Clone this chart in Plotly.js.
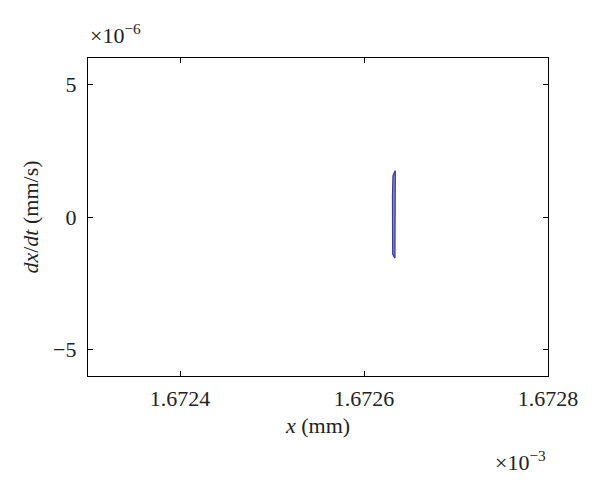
<!DOCTYPE html>
<html>
<head>
<meta charset="utf-8">
<script src="https://cdn.plot.ly/plotly-3.0.1.min.js"></script>
<style>html,body{margin:0;padding:0;background:#fff;}#chart{width:600px;height:490px;}</style>
</head>
<body>
<div id="chart"></div>
<script>
// Phase-portrait loop (x in units of 1e-3 mm, dx/dt in units of 1e-6 mm/s)
const loopX = [1.6726340, 1.6726338, 1.6726336, 1.6726336, 1.6726337, 1.6726336, 1.6726312, 1.6726310, 1.6726309, 1.6726310, 1.6726315, 1.6726340];
const loopY = [1.75, 1.2, 0.5, -0.3, -1.0, -1.55, -1.40, -0.8, 0.0, 0.8, 1.55, 1.75];
const xTicks = [1.6724, 1.6726, 1.6728];
const xTickText = ["1.6724", "1.6726", "1.6728"];
const yTicks = [-5, 0, 5];
const yTickText = ["\u22125", "0", "5"];

const fontFam = "Liberation Serif, Times New Roman, serif";

const trace = {
  x: loopX, y: loopY, type: 'scatter', mode: 'lines',
  fill: 'toself', fillcolor: '#9494de',
  line: {color: '#3a3aa0', width: 1.3},
  hoverinfo: 'skip', showlegend: false
};

const axBase = {
  showgrid: false, zeroline: false, showline: true, mirror: 'ticks',
  linecolor: '#000', linewidth: 1.2, ticks: 'inside', ticklen: 5, tickwidth: 1,
  tickcolor: '#000', tickfont: {family: fontFam, size: 22, color: '#222'}
};

const layout = {
  width: 600, height: 490,
  margin: {l: 88, r: 52, t: 58, b: 114},
  paper_bgcolor: '#fff', plot_bgcolor: '#fff',
  xaxis: Object.assign({}, axBase, {
    range: [1.6723, 1.6728], tickvals: xTicks, ticktext: xTickText,
    ticklabelstandoff: 2,
    title: {text: '<i>x</i> (mm)', font: {family: fontFam, size: 22, color: '#222'}, standoff: 8}
  }),
  yaxis: Object.assign({}, axBase, {
    range: [-6, 6], tickvals: yTicks, ticktext: yTickText,
    ticklabelstandoff: 6,
    title: {text: '<i>dx</i>/<i>dt</i> (mm/s)', font: {family: fontFam, size: 22, color: '#222'}, standoff: 8}
  }),
  annotations: [
    {text: '\u00d710<sup>\u22126</sup>', xref: 'paper', yref: 'paper', x: 0, y: 1,
     xanchor: 'left', yanchor: 'bottom', yshift: 8, showarrow: false,
     font: {family: fontFam, size: 22, color: '#222'}},
    {text: '\u00d710<sup>\u22123</sup>', xref: 'paper', yref: 'paper', x: 1, y: 0,
     xanchor: 'right', yanchor: 'top', yshift: -69, showarrow: false,
     font: {family: fontFam, size: 22, color: '#222'}}
  ]
};

Plotly.newPlot('chart', [trace], layout, {displayModeBar: false, staticPlot: true});
</script>
</body>
</html>
